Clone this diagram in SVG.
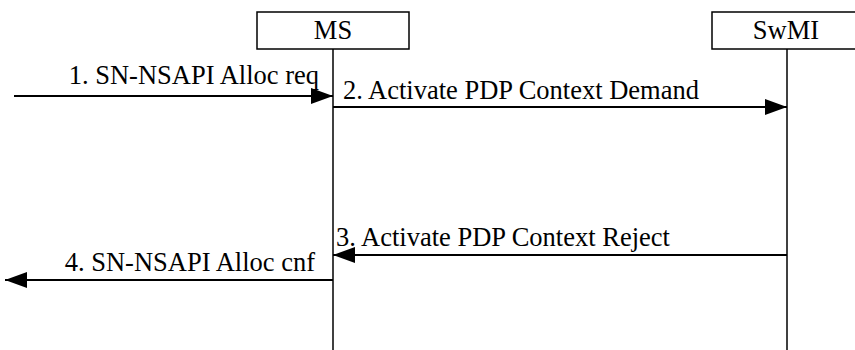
<svg xmlns="http://www.w3.org/2000/svg" width="855" height="350" viewBox="0 0 855 350">
<style>
.box{fill:#fff;stroke:#000;stroke-width:1.5}
.life{stroke:#000;stroke-width:1.5}
.msg{stroke:#000;stroke-width:2;fill:none}
text{font-family:"Liberation Serif","Times New Roman",serif;font-size:26.5px;fill:#000}
</style>
<defs>
<marker id="ah" markerUnits="userSpaceOnUse" markerWidth="24" markerHeight="18" refX="22" refY="8" orient="auto">
<path d="M0,0 L22,8 L0,16 Z" fill="#000"/>
</marker>
</defs>
<rect width="855" height="350" fill="#fff"/>
<g id="MS">
<line class="life" x1="333" y1="49" x2="333" y2="350"/>
<rect class="box" x="257" y="12" width="152" height="37"/>
<text x="333" y="39" text-anchor="middle">MS</text>
</g>
<g id="SwMI">
<line class="life" x1="787" y1="49" x2="787" y2="350"/>
<rect class="box" x="712" y="12" width="152" height="37"/>
<text x="786" y="39" text-anchor="middle">SwMI</text>
</g>
<g id="connectors">
<line class="msg" x1="14" y1="96" x2="333" y2="96" marker-end="url(#ah)"/>
<text x="319" y="84" text-anchor="end">1. SN-NSAPI Alloc req</text>
<line class="msg" x1="333" y1="107" x2="787" y2="107" marker-end="url(#ah)"/>
<text x="343" y="99">2. Activate PDP Context Demand</text>
<line class="msg" x1="787" y1="255" x2="333" y2="255" marker-end="url(#ah)"/>
<text x="336" y="246">3. Activate PDP Context Reject</text>
<line class="msg" x1="333" y1="280" x2="5" y2="280" marker-end="url(#ah)"/>
<text x="315" y="271" text-anchor="end">4. SN-NSAPI Alloc cnf</text>
</g>
</svg>
